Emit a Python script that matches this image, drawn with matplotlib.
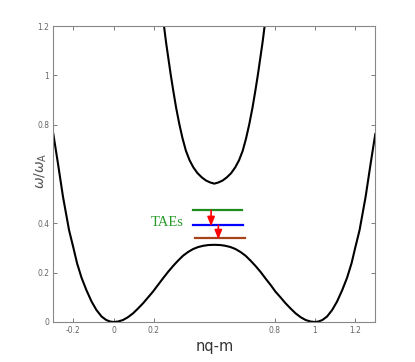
import matplotlib
matplotlib.use('Agg')
import matplotlib.pyplot as plt

# continuum branches
lower_x = [-0.3, -0.277, -0.252, -0.222, -0.2, -0.182, -0.16, -0.136, -0.11, -0.086, -0.06, -0.037, -0.018, 0.0,
           0.022, 0.046, 0.07, 0.096, 0.12, 0.146, 0.17, 0.195, 0.22, 0.245, 0.27, 0.295, 0.32, 0.345, 0.37, 0.395,
           0.42, 0.445, 0.47, 0.5, 0.53, 0.555, 0.58, 0.605, 0.63, 0.655, 0.68, 0.705, 0.73, 0.754, 0.78, 0.804,
           0.83, 0.854, 0.88, 0.904, 0.93, 0.954, 0.978, 1.0, 1.018, 1.037, 1.06, 1.086, 1.11, 1.136, 1.16, 1.182,
           1.2, 1.222, 1.252, 1.277, 1.3]
lower_y = [0.762, 0.643, 0.508, 0.373, 0.30, 0.238, 0.18, 0.130, 0.083, 0.049, 0.022, 0.008, 0.002, 0.0,
           0.002, 0.008, 0.019, 0.035, 0.054, 0.076, 0.099, 0.123, 0.150, 0.177, 0.203, 0.227, 0.249, 0.269, 0.284, 0.296,
           0.304, 0.309, 0.312, 0.313, 0.312, 0.309, 0.304, 0.296, 0.284, 0.269, 0.249, 0.227, 0.203, 0.177, 0.150, 0.123,
           0.099, 0.076, 0.054, 0.035, 0.019, 0.008, 0.002, 0.0, 0.002, 0.008, 0.022, 0.049, 0.083, 0.130, 0.18, 0.238,
           0.30, 0.373, 0.508, 0.643, 0.762]

upper_x = [0.245, 0.250, 0.260, 0.271, 0.283, 0.296, 0.31, 0.326, 0.342, 0.359, 0.377, 0.396, 0.416, 0.437, 0.458,
           0.479, 0.5, 0.521, 0.542, 0.563, 0.584, 0.604, 0.623, 0.641, 0.658, 0.674, 0.69, 0.704, 0.717, 0.729,
           0.74, 0.750, 0.755]
upper_y = [1.23, 1.2, 1.135, 1.073, 1.005, 0.938, 0.870, 0.803, 0.745, 0.694, 0.656, 0.627, 0.604, 0.587, 0.574,
           0.566, 0.561, 0.566, 0.574, 0.587, 0.604, 0.627, 0.656, 0.694, 0.745, 0.803, 0.870, 0.938, 1.005, 1.073,
           1.135, 1.2, 1.23]

# TAE levels: (x start, x end, omega, colour)
tae_x0 = [0.395, 0.395, 0.405]
tae_x1 = [0.640, 0.642, 0.651]
tae_y = [0.453, 0.392, 0.339]
tae_colors = ['#1e8c1e', '#0000ff', '#a5441a']

arrow_x = [0.484, 0.520]

xticks = [-0.2, 0, 0.2, 0.8, 1, 1.2]
xticklabels = ['-0.2', '0', '0.2', '0.8', '1', '1.2']
yticks = [0, 0.2, 0.4, 0.8, 1, 1.2]
yticklabels = ['0', '0.2', '0.4', '0.8', '1', '1.2']

fig = plt.figure(figsize=(4.15, 3.62), dpi=100)
ax = fig.add_axes([0.1285, 0.1105, 0.7758, 0.8175])

ax.plot(lower_x, lower_y, color='black', lw=1.5, solid_joinstyle='round')
ax.plot(upper_x, upper_y, color='black', lw=1.5, solid_joinstyle='round')

for x0, x1, y, c in zip(tae_x0, tae_x1, tae_y, tae_colors):
    ax.plot([x0, x1], [y, y], color=c, lw=1.6)

# red arrows stepping down between TAE levels
for i, xa in enumerate(arrow_x):
    ax.annotate('', xy=(xa, tae_y[i + 1] - 0.004), xytext=(xa, tae_y[i]),
                arrowprops=dict(arrowstyle='-|>,head_length=0.55,head_width=0.22',
                                color='red', lw=1.2, shrinkA=0, shrinkB=0))

ax.text(0.264, 0.403, 'TAEs', color='#2a9a2a', fontsize=10.5, family='Liberation Serif',
        ha='center', va='center')

ax.set_xlim(-0.3, 1.3)
ax.set_ylim(0, 1.2)
ax.set_xticks(xticks)
ax.set_xticklabels(xticklabels)
ax.set_yticks(yticks)
ax.set_yticklabels(yticklabels)
ax.tick_params(direction='in', length=3, width=0.6, colors='#666666', labelsize=5.5,
               top=True, right=True, pad=3)
for s in ax.spines.values():
    s.set_color('#888888')
    s.set_linewidth(0.8)

ax.set_xlabel('nq-m', fontsize=10.5, color='#333333', labelpad=3)
# y label sits where the 0.6 tick label would be
ax.text(-0.038, 0.51, r'$\omega/\omega_{\rm A}$', transform=ax.transAxes, rotation=90,
        fontsize=10, color='#555555', ha='center', va='center')

fig.savefig('out.png', dpi=100)
